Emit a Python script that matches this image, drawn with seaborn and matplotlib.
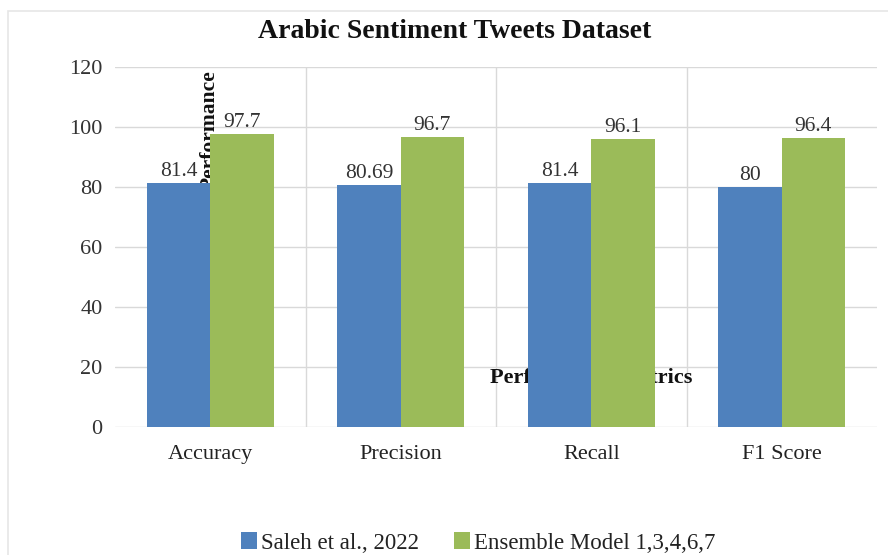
import matplotlib
matplotlib.use("Agg")
import matplotlib.pyplot as plt
import seaborn as sns
import pandas as pd
from matplotlib.patches import Rectangle

metrics = ["Accuracy", "Precision", "Recall", "F1 Score"]
models = ["Saleh et al., 2022", "Ensemble Model 1,3,4,6,7"]
saleh_scores = [81.4, 80.69, 81.4, 80]
ensemble_scores = [97.7, 96.7, 96.1, 96.4]
score_labels = [["81.4", "80.69", "81.4", "80"], ["97.7", "96.7", "96.1", "96.4"]]
yticks = [0, 20, 40, 60, 80, 100, 120]
colors = ["#4F81BD", "#9BBB59"]

df = pd.DataFrame({
    "Metric": metrics * 2,
    "Model": [models[0]] * 4 + [models[1]] * 4,
    "Score": saleh_scores + ensemble_scores,
})

sns.set_theme(style="white")
plt.rcParams["font.family"] = ["Liberation Serif", "DejaVu Serif"]

W, H = 888, 555
fig = plt.figure(figsize=(W / 100, H / 100), dpi=100)
fig.patch.set_facecolor("white")

def fx(px):
    return px / W

def fy(py):
    return 1 - py / H

ax = fig.add_axes([fx(115), fy(427), fx(877) - fx(115), fy(67) - fy(427)])

sns.barplot(data=df, x="Metric", y="Score", hue="Model", order=metrics,
            hue_order=models, palette=colors, width=0.665, gap=0,
            saturation=1, edgecolor="none", linewidth=0, ax=ax, zorder=2)

ax.set_ylim(0, 120)
ax.set_xlim(-0.5, len(metrics) - 0.5)
ax.set_yticks(yticks)
ax.set_yticklabels([str(t) for t in yticks], fontsize=16, color="#333333")
ax.set_xticks(range(len(metrics)))
ax.set_xticklabels(metrics, fontsize=16, color="#222222")
ax.tick_params(axis="x", length=0, pad=13)
ax.tick_params(axis="y", length=0, pad=9)
ax.set_xlabel("")
ax.set_ylabel("")
for s in ax.spines.values():
    s.set_visible(False)

grid_c = "#D9D9D9"
for t in yticks:
    ax.axhline(t, color=grid_c, lw=1.0, zorder=0)
for b in [0.5, 1.5, 2.5]:
    ax.axvline(b, color=grid_c, lw=1.0, zorder=0)

# value labels above each bar
for cont, labs in zip(ax.containers, score_labels):
    ax.bar_label(cont, labels=labs, padding=1.5, fontsize=15.5, color="#333333")

# axis titles sit behind the bars
ax.text(fx(210), fy(70), "Performance", transform=fig.transFigure, rotation=90,
        ha="center", va="top", fontsize=15.5, fontweight="bold", color="#111111",
        zorder=1, clip_on=False)
ax.text(fx(591), fy(378), "Performance Metrics", transform=fig.transFigure,
        ha="center", va="center", fontsize=16, fontweight="bold", color="#111111",
        zorder=1, clip_on=False)

fig.text(fx(455), fy(31), "Arabic Sentiment Tweets Dataset", ha="center",
         va="center", fontsize=20, fontweight="bold", color="#111111")

ax.legend_.remove()
handles = [Rectangle((0, 0), 1, 1, facecolor=c, edgecolor="none") for c in colors]
fig.legend(handles, models, loc="center", bbox_to_anchor=(fx(478), fy(543)),
           ncol=2, frameon=False, fontsize=16.5, handlelength=0.7,
           handleheight=0.7, handletextpad=0.2, columnspacing=1.5,
           labelcolor="#222222")

# thin outer frame of the chart area
fig.add_artist(Rectangle((fx(8), fy(600)), fx(900) - fx(8), fy(11) - fy(600),
                         transform=fig.transFigure, fill=False,
                         edgecolor="#E6E6E6", lw=1.2))

fig.savefig("out.png", dpi=100, facecolor="white")
